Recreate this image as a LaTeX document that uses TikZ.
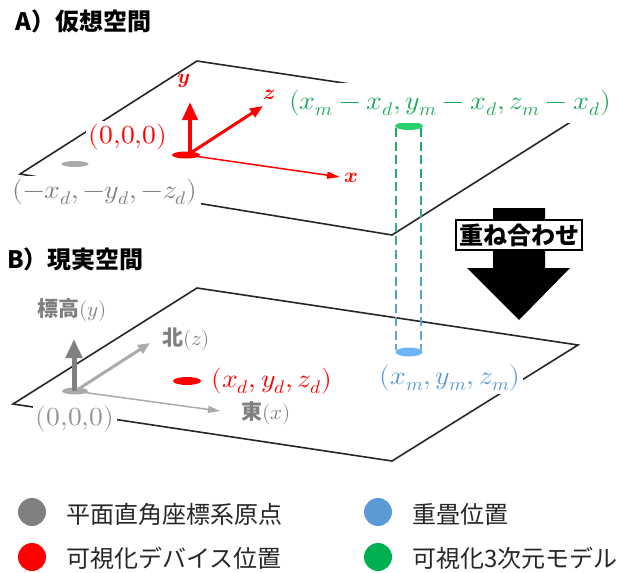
\documentclass[tikz,border=0pt]{standalone}
\usepackage{fontspec}
\usepackage{unicode-math}
\setmathfont{Latin Modern Math}
\usepackage{graphicx}
\newfontfamily\jp{Noto Sans CJK JP}
\usetikzlibrary{arrows.meta,shapes.geometric}
\definecolor{cred}{RGB}{255,0,0}
\definecolor{cgray}{RGB}{128,128,128}
\definecolor{clgray}{RGB}{170,170,170}
\definecolor{cgreen}{RGB}{30,170,90}
\definecolor{cgreenf}{RGB}{40,210,110}
\definecolor{cblue}{RGB}{91,155,213}
\definecolor{cbluef}{RGB}{110,180,245}
\definecolor{clgblue}{RGB}{100,165,225}
\definecolor{clgreen}{RGB}{0,176,80}
\newcommand\wide[1]{\scalebox{1.06}[1]{#1}}
\tikzset{
  plane/.style={draw=black!85, line width=1.6pt, line join=miter},
  lbl/.style={fill=white, inner sep=3pt, font=\fontsize{26}{30}\selectfont},
  axlbl/.style={inner sep=1pt, font=\fontsize{21}{24}\selectfont},
  jplbl/.style={inner sep=1pt, font=\jp\bfseries\fontsize{21}{24}\selectfont, text=cgray},
  heading/.style={anchor=west, inner sep=0pt, font=\jp\bfseries\fontsize{24}{28}\selectfont},
  legtext/.style={anchor=west, inner sep=0pt, text=black!85, font=\jp\fontsize{24}{28}\selectfont},
  legdot/.style={circle, minimum size=28pt, inner sep=0pt},
  orig/.style={ellipse, minimum width=27pt, minimum height=7pt, inner sep=0pt},
}
\begin{document}
\begin{tikzpicture}[x=1pt,y=-1pt]
\useasboundingbox (0,0) rectangle (635,573);

% headings
\node[heading] (ha) at (15,21) {A）仮想空間};
\node[heading] (hb) at (7,259) {B）現実空間};

% planes
\draw[plane] (197,61) -- (577,118) -- (392,235) -- (20,174) -- cycle;
\draw[plane] (197,288) -- (578,345) -- (392,461) -- (13,404) -- cycle;

% big arrow
\fill[black] (493,208) -- (545,208) -- (545,268) -- (570,268) -- (519,320) -- (467,268) -- (493,268) -- cycle;
\node[draw=black, line width=1.5pt, fill=white, minimum width=126pt, minimum height=30pt, inner sep=1pt,
      font=\jp\bfseries\fontsize{24}{28}\selectfont] (ov) at (519,235) {重ね合わせ};

% cylinder dashes
\foreach \i in {0,...,16}{
  \pgfmathsetmacro\ya{128+13.5*\i}
  \pgfmathsetmacro\yb{min(\ya+9,350)}
  \pgfmathtruncatemacro\p{100-100*\i/16}
  \draw[line width=1.5pt, draw=cgreen!\p!clgblue] (396,\ya) -- (396,\yb) (421,\ya) -- (421,\yb);
}
\node[orig, fill=cgreenf, minimum width=28pt, minimum height=8pt] (mtop) at (409,126) {};
\node[orig, fill=cbluef, minimum width=27pt, minimum height=9pt] (mbot) at (409,352) {};

% labels with white background (top plane)
\node[lbl, text=cred] (o1) at (128,137) {\wide{$(0{,}0{,}0)$}};
\node[lbl, text=cgray] (o2) at (105,192) {\wide{$(-x_d,-y_d,-z_d)$}};
\node[lbl, text=cgreen, inner ysep=7pt] (gm) at (450,103) {\wide{$(x_m-x_d,y_m-x_d,z_m-x_d)$}};

% top plane axes
\node[orig, fill=cred, minimum width=28pt] (e1) at (186,155) {};
\node[orig, fill=clgray, minimum width=27pt, minimum height=6pt] (e2) at (75,164) {};
\coordinate (ty) at (190,102);
\coordinate (tz) at (263,106);
\coordinate (tx) at (340,177);
\draw[cred, line width=4pt, -{Triangle[width=15pt,length=18pt]}] (e1.center) ++(4,0) -- (ty);
\draw[cred, line width=3pt, -{Triangle[width=10pt,length=13pt]}] (e1.center) ++(3,-1) -- (tz);
\draw[cred, line width=1.5pt, -{Triangle[width=7pt,length=13pt]}] (e1.center) ++(8,1) -- (tx);
\node[axlbl, text=cred] (ly) at (184,81) {$\symbfit{y}$};
\node[axlbl, text=cred] (lz) at (269,95) {$\symbfit{z}$};
\node[axlbl, text=cred] (lx) at (351,178) {$\symbfit{x}$};

% lower plane
\node[lbl, text=cblue] (bm) at (450,378) {\wide{$(x_m,y_m,z_m)$}};
\node[lbl, text=cred, fill=none] (dd) at (272,381) {\wide{$(x_d,y_d,z_d)$}};
\node[lbl, text=cgray!85] (o3) at (75,419) {\wide{$(0{,}0{,}0)$}};
\node[orig, fill=cred, minimum width=28pt, minimum height=8pt] (e3) at (187,381) {};
\node[orig, fill=clgray, minimum width=26pt, minimum height=7pt] (e4) at (75,391) {};
\coordinate (by) at (74,339);
\coordinate (bz) at (150,343);
\coordinate (bx) at (220,411);
\draw[cgray, line width=5pt, -{Triangle[width=16pt,length=19pt]}] (e4.center) ++(-1,0) -- (by);
\draw[clgray, line width=3pt, -{Triangle[width=10pt,length=12pt]}] (e4.center) ++(2,-1) -- (bz);
\draw[clgray, line width=1.5pt, -{Triangle[width=7pt,length=12pt]}] (e4.center) ++(6,1) -- (bx);
\node[jplbl] (lby) at (72,310) {標高$(y)$};
\node[jplbl] (lbz) at (186,339) {北$(z)$};
\node[jplbl] (lbx) at (266,413) {東$(x)$};

% legend
\node[legdot, fill=cgray] (l1) at (32,512) {};
\node[legtext] (t1) at (66,514) {平面直角座標系原点};
\node[legdot, fill=cred] (l2) at (32,557) {};
\node[legtext] (t2) at (66,558) {可視化デバイス位置};
\node[legdot, fill=cblue] (l3) at (378,512) {};
\node[legtext] (t3) at (412,514) {重畳位置};
\node[legdot, fill=clgreen] (l4) at (378,557) {};
\node[legtext] (t4) at (412,558) {可視化3次元モデル};
\end{tikzpicture}
\end{document}
